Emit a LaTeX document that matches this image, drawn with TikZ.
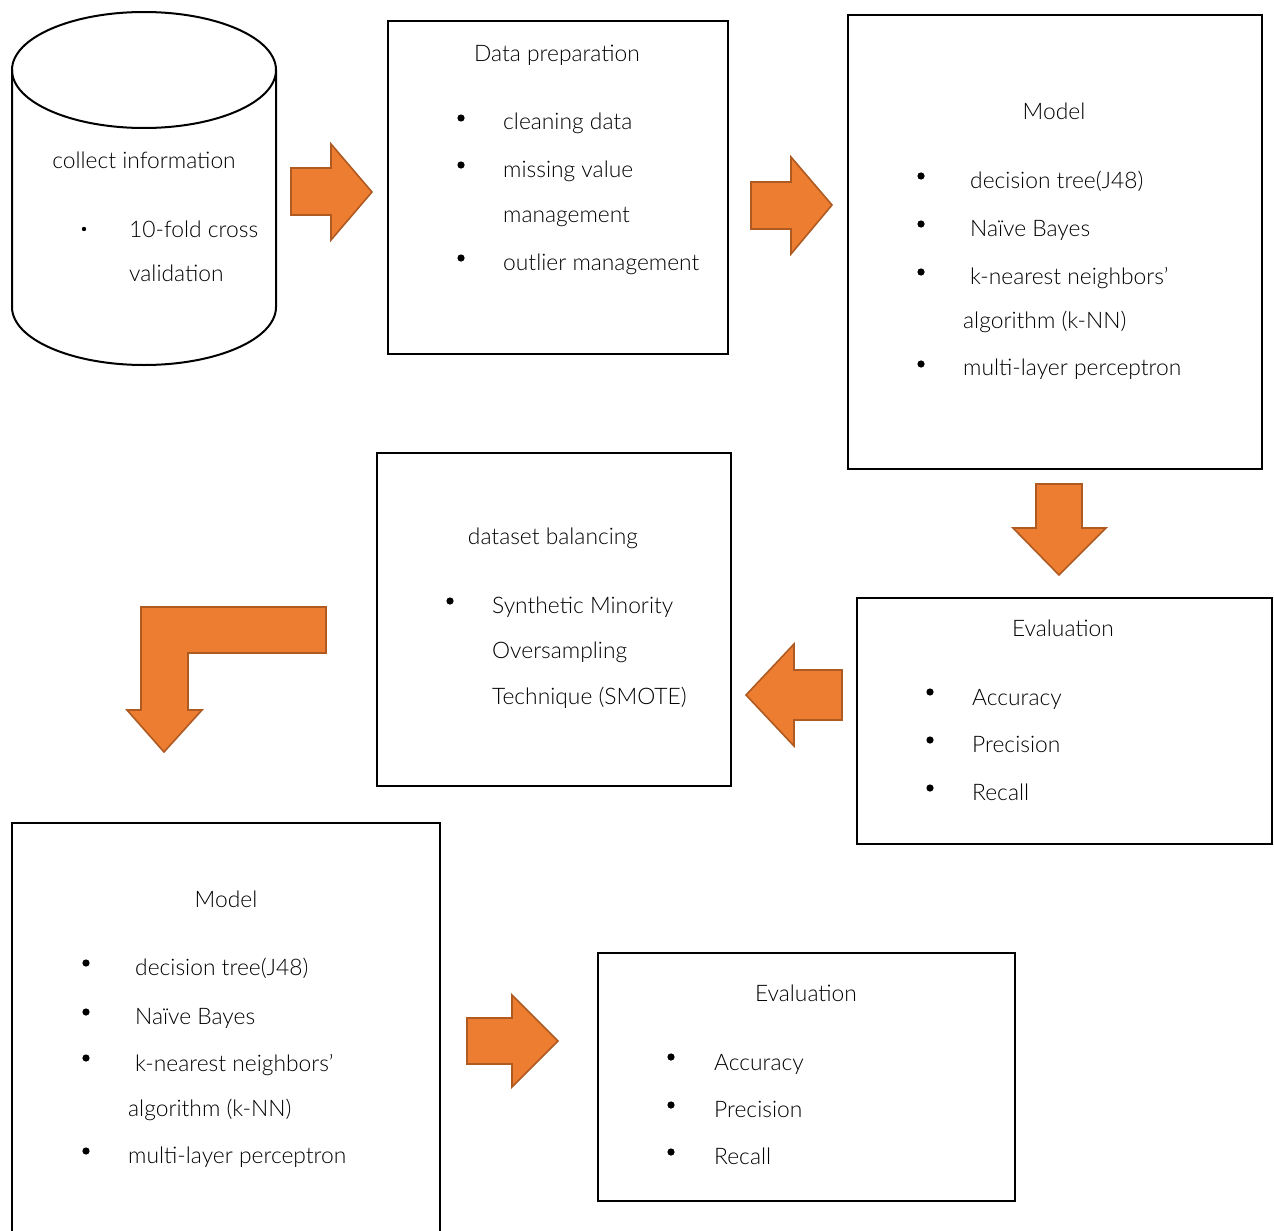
\documentclass[tikz,border=0pt]{standalone}
\usepackage{fontspec}
\setmainfont{Lato Light}[BoldFont=Lato]
\usetikzlibrary{calc}
\definecolor{orfill}{HTML}{ED7D31}
\definecolor{ordraw}{HTML}{AE5A21}
\tikzset{
  box/.style={draw=black, line width=2pt, fill=white},
  blockarrow/.style={fill=orfill, draw=ordraw, line width=1.6pt, line join=miter},
  txt/.style={anchor=mid west, inner sep=0pt, yshift=-6pt, font=\fontsize{22.8}{27}\selectfont},
  ttl/.style={anchor=mid, inner sep=0pt, yshift=-6pt, font=\fontsize{22.8}{27}\selectfont},
}
\newcommand{\bul}[2]{\fill (#1,#2) circle[radius=3.6];}
\begin{document}
\begin{tikzpicture}[x=1pt,y=-1pt]
\useasboundingbox (0,0) rectangle (1274,1231);
% cylinder
\draw[line width=2pt] (12,70) -- (12,307) arc[start angle=180,end angle=0,x radius=132,y radius=58] -- (276,70);
\draw[line width=2pt] (144,70) ellipse[x radius=132,y radius=58];
\node[ttl] (ci) at (144,160) {collect information};
\fill (84,229) circle[radius=2.2];
\node[txt] (ci1) at (129,229) {10-fold cross};
\node[txt] (ci2) at (129,273) {validation};
% arrow 1
\draw[blockarrow] (291,168) -- (331,168) -- (331,144) -- (372,192) -- (331,240) -- (331,215) -- (291,215) -- cycle;
% data preparation
\node[box, minimum width=340, minimum height=333, anchor=north west] (dp) at (387,20) {};
\node[ttl] (dpt) at (557,53) {Data preparation};
\bul{461}{118}\bul{461}{165}\bul{461}{258}
\node[txt] (dp1) at (503,121) {cleaning data};
\node[txt] (dp2) at (503,169) {missing value};
\node[txt] (dp3) at (503,214) {management};
\node[txt] (dp4) at (503,262) {outlier management};
% arrow 2
\draw[blockarrow] (751,182) -- (791,182) -- (791,157) -- (832,205) -- (791,254) -- (791,229) -- (751,229) -- cycle;
% model 1
\node[box, minimum width=414, minimum height=454, anchor=north west] (m1) at (847,14) {};
\node[ttl] (m1t) at (1054,111) {Model};
\bul{921}{176}\bul{921}{224}\bul{921}{272}\bul{921}{364}
\node[txt] (m11) at (970,180) {decision tree(J48)};
\node[txt] (m12) at (970,228) {Naïve Bayes};
\node[txt] (m13) at (970,276) {k-nearest neighbors’};
\node[txt] (m14) at (963,320) {algorithm (k-NN)};
\node[txt] (m15) at (963,367) {multi-layer perceptron};
% down arrow
\draw[blockarrow] (1036,484) -- (1082,484) -- (1082,528) -- (1106,528) -- (1059,575) -- (1013,528) -- (1036,528) -- cycle;
% evaluation 1
\node[box, minimum width=415, minimum height=246, anchor=north west] (e1) at (856,597) {};
\node[ttl] (e1t) at (1063,628) {Evaluation};
\bul{930}{692}\bul{930}{740}\bul{930}{788}
\node[txt] (e11) at (972,697) {Accuracy};
\node[txt] (e12) at (972,744) {Precision};
\node[txt] (e13) at (972,792) {Recall};
% left arrow
\draw[blockarrow] (842,670) -- (794,670) -- (794,644) -- (746,695) -- (794,746) -- (794,720) -- (842,720) -- cycle;
% dataset balancing
\node[box, minimum width=354, minimum height=333, anchor=north west] (db) at (376,452) {};
\node[ttl] (dbt) at (553,536) {dataset balancing};
\bul{450}{601}
\node[txt] (db1) at (492,605) {Synthetic Minority};
\node[txt] (db2) at (492,650) {Oversampling};
\node[txt] (db3) at (492,696) {Technique (SMOTE)};
% bent arrow
\draw[blockarrow] (326,607) -- (141,607) -- (141,710) -- (127,710) -- (164,752) -- (202,710) -- (188,710) -- (188,653) -- (326,653) -- cycle;
% model 2
\draw[line width=2pt] (12,1240) -- (12,823) coordinate (m2tl) -- (440,823) -- (440,1240);
\node[ttl] (m2t) at (226,899) {Model};
\bul{86}{963}\bul{86}{1012}\bul{86}{1058}\bul{86}{1151}
\node[txt] (m21) at (135,967) {decision tree(J48)};
\node[txt] (m22) at (135,1016) {Naïve Bayes};
\node[txt] (m23) at (135,1063) {k-nearest neighbors’};
\node[txt] (m24) at (128,1108) {algorithm (k-NN)};
\node[txt] (m25) at (128,1155) {multi-layer perceptron};
% arrow 3
\draw[blockarrow] (467,1018) -- (512,1018) -- (512,995) -- (558,1041) -- (512,1087) -- (512,1064) -- (467,1064) -- cycle;
% evaluation 2
\node[box, minimum width=417, minimum height=248, anchor=north west] (e2) at (597,952) {};
\node[ttl] (e2t) at (806,993) {Evaluation};
\bul{671}{1057}\bul{671}{1105}\bul{671}{1152}
\node[txt] (e21) at (714,1062) {Accuracy};
\node[txt] (e22) at (714,1109) {Precision};
\node[txt] (e23) at (714,1156) {Recall};
\end{tikzpicture}
\end{document}
